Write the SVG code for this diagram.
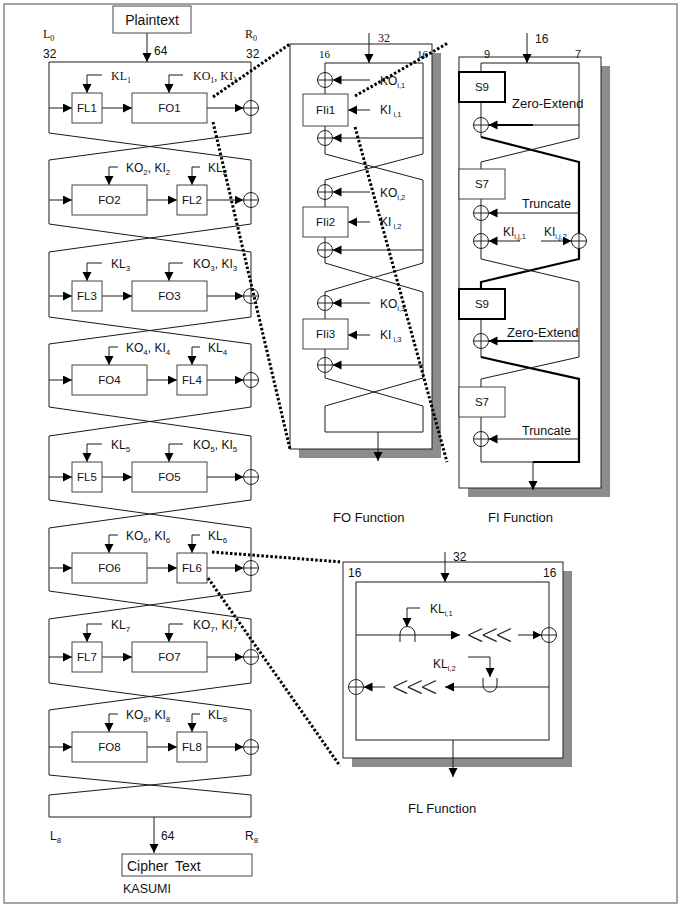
<svg xmlns="http://www.w3.org/2000/svg" width="680" height="911" viewBox="0 0 680 911">
<style>
.ln{fill:none;stroke:#1a1a1a;stroke-width:1}
.ar{fill:none;stroke:#1a1a1a;stroke-width:1;marker-end:url(#ah)}
.thk{fill:none;stroke:#000;stroke-width:2.2}
.thka{fill:none;stroke:#000;stroke-width:2.2;marker-end:url(#ah)}
.box{fill:#fff;stroke:#444;stroke-width:1}
.tbox{fill:#fff;stroke:#000;stroke-width:2}
.sh{fill:#8c8c8c;stroke:none}
.pan{fill:#fff;stroke:#222;stroke-width:1}
.dot{fill:none;stroke:#000;stroke-width:3;stroke-dasharray:2.5 2}
text{font-family:"Liberation Sans",Arial,sans-serif;fill:#111}
.t12{font-size:12px}
.t11{font-size:11px}
.t13{font-size:13px}
.bx{font-size:11.5px;text-anchor:middle}
.sf{font-family:"Liberation Serif","Times New Roman",serif}
.sub{font-size:8px}
.sub7{font-size:7.5px}
.chev{font-family:"DejaVu Sans",sans-serif;font-weight:200;font-size:22px;letter-spacing:-4px;fill:#222}
</style>
<defs>
<marker id="ah" markerUnits="userSpaceOnUse" markerWidth="10" markerHeight="10" refX="9" refY="4.5" orient="auto"><path d="M0,0 L9,4.5 L0,9 z" fill="#000"/></marker>
<g id="xor"><circle r="7.5" fill="#fff" stroke="#222" stroke-width="1"/><path d="M-7.5,0 H7.5 M0,-7.5 V7.5" stroke="#222" stroke-width="1" fill="none"/></g>
</defs>
<rect x="0" y="0" width="680" height="911" fill="#fff"/>
<rect id="frame" x="4" y="4" width="673" height="899" fill="none" stroke="#888" stroke-width="1.5"/>

<!-- FO / FI / FL panels (backgrounds) -->
<g id="fo-panel">
<rect class="sh" x="299" y="53" width="142" height="405"/>
<rect class="pan" x="290" y="44" width="142" height="405"/>
</g>
<g id="fi-panel">
<rect class="sh" x="468" y="66" width="142" height="431"/>
<rect class="pan" x="459" y="57" width="142" height="431"/>
</g>
<g id="fl-panel">
<rect class="sh" x="352" y="571" width="220" height="196"/>
<rect class="pan" x="343" y="562" width="220" height="196"/>
<rect class="ln" x="356" y="582" width="193" height="158"/>
</g>

<!-- KASUMI round skeleton -->
<g id="round-frame" class="ln">
<path d="M49,133 V62 H251 V133"/>
<path d="M49,133 L251,160 M251,133 L49,160 M49,160 V224 M251,160 V224"/>
<path d="M49,224 L251,252 M251,224 L49,252 M49,252 V317 M251,252 V317"/>
<path d="M49,317 L251,344 M251,317 L49,344 M49,344 V407 M251,344 V407"/>
<path d="M49,407 L251,436 M251,407 L49,436 M49,436 V500 M251,436 V500"/>
<path d="M49,500 L251,528 M251,500 L49,528 M49,528 V591 M251,528 V591"/>
<path d="M49,591 L251,619 M251,591 L49,619 M49,619 V683 M251,619 V683"/>
<path d="M49,683 L251,710 M251,683 L49,710 M49,710 V775 M251,710 V775"/>
<path d="M49,775 L251,795 M251,775 L49,795 M49,795 V817 H251 V795"/>
</g>

<!-- FO internal skeleton -->
<g id="fo-frame" class="ln">
<path d="M325,154 V63 H423 V154"/>
<path d="M325,154 L423,180 M423,154 L325,180 M325,180 V263 M423,180 V263"/>
<path d="M325,263 L423,292 M423,263 L325,292 M325,292 V378 M423,292 V378"/>
<path d="M325,378 L423,406 M423,378 L325,406 M325,406 V432 H423 V406"/>
</g>

<!-- FI internal skeleton -->
<g id="fi-frame">
<path class="ln" d="M481,72 V63 H579 V138"/>
<path class="ln" d="M481,102 V137"/>
<path class="thk" d="M481,137 L579,162 V259 L481,282 V289"/>
<path class="ln" d="M579,138 L481,162 V169"/>
<path class="ln" d="M481,199 V259 L579,282 V357"/>
<path class="ln" d="M481,319 V357"/>
<path class="thk" d="M481,357 L579,379 V462 H533"/>
<path class="ln" d="M579,357 L481,379 V387"/>
<path class="ln" d="M481,417 V462 H533"/>
</g>

<g id="connectors">
<path class="ar" d="M147,33 V62"/>
<path class="ar" d="M154,817 V853"/>
<!-- R1 -->
<path class="ar" d="M49,108 H72"/><path class="ar" d="M102,108 H132"/><path class="ar" d="M207,108 H243.5"/>
<path class="ar" d="M102,75 H87 V93"/><path class="ar" d="M183,75 H169 V93"/>
<!-- R2 -->
<path class="ar" d="M49,200 H72"/><path class="ar" d="M147,200 H177"/><path class="ar" d="M207,200 H243.5"/>
<path class="ar" d="M118,167 H109 V185"/><path class="ar" d="M200,167 H192 V185"/>
<!-- R3 -->
<path class="ar" d="M49,296 H72"/><path class="ar" d="M102,296 H132"/><path class="ar" d="M207,296 H243.5"/>
<path class="ar" d="M102,263 H87 V281"/><path class="ar" d="M183,263 H169 V281"/>
<!-- R4 -->
<path class="ar" d="M49,380 H72"/><path class="ar" d="M147,380 H177"/><path class="ar" d="M207,380 H243.5"/>
<path class="ar" d="M118,347 H109 V365"/><path class="ar" d="M200,347 H192 V365"/>
<!-- R5 -->
<path class="ar" d="M49,477 H72"/><path class="ar" d="M102,477 H132"/><path class="ar" d="M207,477 H243.5"/>
<path class="ar" d="M102,444 H87 V462"/><path class="ar" d="M183,444 H169 V462"/>
<!-- R6 -->
<path class="ar" d="M49,568 H72"/><path class="ar" d="M147,568 H177"/><path class="ar" d="M207,568 H243.5"/>
<path class="ar" d="M118,535 H109 V553"/><path class="ar" d="M200,535 H192 V553"/>
<!-- R7 -->
<path class="ar" d="M49,657 H72"/><path class="ar" d="M102,657 H132"/><path class="ar" d="M207,657 H243.5"/>
<path class="ar" d="M102,624 H87 V642"/><path class="ar" d="M183,624 H169 V642"/>
<!-- R8 -->
<path class="ar" d="M49,747 H72"/><path class="ar" d="M147,747 H177"/><path class="ar" d="M207,747 H243.5"/>
<path class="ar" d="M118,714 H109 V732"/><path class="ar" d="M200,714 H192 V732"/>
<!-- FO function -->
<path class="ar" d="M369,33 V63"/>
<path class="ar" d="M370,80 H332.5"/><path class="ar" d="M370,110 H348"/><path class="ar" d="M423,138 H332.5"/>
<path class="ar" d="M370,192 H332.5"/><path class="ar" d="M370,222 H348"/><path class="ar" d="M423,250 H332.5"/>
<path class="ar" d="M370,303 H332.5"/><path class="ar" d="M370,335 H348"/><path class="ar" d="M423,365 H332.5"/>
<path class="ar" d="M378,432 V461"/>
<!-- FI function -->
<path class="ar" d="M527,33 V63"/>
<path class="ln" d="M579,125 H533"/><path class="thka" d="M533,125 H488.5"/>
<path class="ar" d="M579,213 H488.5"/>
<path class="ar" d="M520,241 H488.5"/><path class="ar" d="M541,241 H571.5"/>
<path class="ln" d="M579,341 H533"/><path class="thka" d="M533,341 H488.5"/>
<path class="ar" d="M579,439 H488.5"/>
<path class="ar" d="M533,462 V490"/>
<!-- FL function -->
<path class="ar" d="M445,552 V582"/>
<path class="ar" d="M356,635 H460"/>
<path class="ar" d="M420,608 H407 V627"/>
<path class="ar" d="M518,635 H541.5"/>
<path class="ar" d="M549,687 H445"/>
<path class="ar" d="M468,657 H490 V677"/>
<path class="ar" d="M385,687 H363.5"/>
<path class="ar" d="M453,740 V777"/>
</g>

<!-- Plaintext / Ciphertext -->
<g id="plaintext"><rect class="box" x="113" y="6" width="78" height="27"/><text x="152" y="25" font-size="14" text-anchor="middle">Plaintext</text></g>
<g id="ciphertext"><rect class="box" x="122" y="854" width="130" height="22"/><text x="127" y="871" font-size="14" word-spacing="3">Cipher Text</text></g>
<g id="labels-main">
<text x="43" y="38" class="t12 sf">L<tspan class="sub" dy="3">0</tspan></text>
<text x="245" y="38" class="t12 sf">R<tspan class="sub" dy="3">0</tspan></text>
<text x="43" y="58" class="t12">32</text>
<text x="246" y="58" class="t12">32</text>
<text x="154" y="55" class="t12">64</text>
<text x="50" y="840" class="t12">L<tspan class="sub" dy="3">8</tspan></text>
<text x="161" y="840" class="t12">64</text>
<text x="245" y="840" class="t12">R<tspan class="sub" dy="3">8</tspan></text>
<text x="123" y="893" font-size="12.5">KASUMI</text>
</g>

<!-- Rounds -->
<g id="round1">
<g id="FL1"><rect class="box" x="72" y="93" width="30" height="30"/><text class="bx" x="87" y="112">FL1</text></g>
<g id="FO1"><rect class="box" x="132" y="93" width="75" height="30"/><text class="bx" x="169.5" y="112">FO1</text></g>
<use href="#xor" x="251" y="108"/>
<text x="111" y="80" class="t12 sf">KL<tspan class="sub" dy="3">1</tspan></text>
<text x="193" y="80" class="t12 sf">KO<tspan class="sub" dy="3">1</tspan><tspan dy="-3">, KI</tspan><tspan class="sub" dy="3">1</tspan></text>
</g>
<g id="round2">
<g id="FO2"><rect class="box" x="72" y="185" width="75" height="30"/><text class="bx" x="109.5" y="204">FO2</text></g>
<g id="FL2"><rect class="box" x="177" y="185" width="30" height="30"/><text class="bx" x="192" y="204">FL2</text></g>
<use href="#xor" x="251" y="200"/>
<text x="126" y="172" class="t12">KO<tspan class="sub" dy="3">2</tspan><tspan dy="-3">, KI</tspan><tspan class="sub" dy="3">2</tspan></text>
<text x="208" y="172" class="t12">KL<tspan class="sub" dy="3">2</tspan></text>
</g>
<g id="round3">
<g id="FL3"><rect class="box" x="72" y="281" width="30" height="30"/><text class="bx" x="87" y="300">FL3</text></g>
<g id="FO3"><rect class="box" x="132" y="281" width="75" height="30"/><text class="bx" x="169.5" y="300">FO3</text></g>
<use href="#xor" x="251" y="296"/>
<text x="111" y="268" class="t12">KL<tspan class="sub" dy="3">3</tspan></text>
<text x="193" y="268" class="t12">KO<tspan class="sub" dy="3">3</tspan><tspan dy="-3">, KI</tspan><tspan class="sub" dy="3">3</tspan></text>
</g>
<g id="round4">
<g id="FO4"><rect class="box" x="72" y="365" width="75" height="30"/><text class="bx" x="109.5" y="384">FO4</text></g>
<g id="FL4"><rect class="box" x="177" y="365" width="30" height="30"/><text class="bx" x="192" y="384">FL4</text></g>
<use href="#xor" x="251" y="380"/>
<text x="126" y="352" class="t12">KO<tspan class="sub" dy="3">4</tspan><tspan dy="-3">, KI</tspan><tspan class="sub" dy="3">4</tspan></text>
<text x="208" y="352" class="t12">KL<tspan class="sub" dy="3">4</tspan></text>
</g>
<g id="round5">
<g id="FL5"><rect class="box" x="72" y="462" width="30" height="30"/><text class="bx" x="87" y="481">FL5</text></g>
<g id="FO5"><rect class="box" x="132" y="462" width="75" height="30"/><text class="bx" x="169.5" y="481">FO5</text></g>
<use href="#xor" x="251" y="477"/>
<text x="111" y="449" class="t12">KL<tspan class="sub" dy="3">5</tspan></text>
<text x="193" y="449" class="t12">KO<tspan class="sub" dy="3">5</tspan><tspan dy="-3">, KI</tspan><tspan class="sub" dy="3">5</tspan></text>
</g>
<g id="round6">
<g id="FO6"><rect class="box" x="72" y="553" width="75" height="30"/><text class="bx" x="109.5" y="572">FO6</text></g>
<g id="FL6"><rect class="box" x="177" y="553" width="30" height="30"/><text class="bx" x="192" y="572">FL6</text></g>
<use href="#xor" x="251" y="568"/>
<text x="126" y="540" class="t12">KO<tspan class="sub" dy="3">6</tspan><tspan dy="-3">, KI</tspan><tspan class="sub" dy="3">6</tspan></text>
<text x="208" y="540" class="t12">KL<tspan class="sub" dy="3">6</tspan></text>
</g>
<g id="round7">
<g id="FL7"><rect class="box" x="72" y="642" width="30" height="30"/><text class="bx" x="87" y="661">FL7</text></g>
<g id="FO7"><rect class="box" x="132" y="642" width="75" height="30"/><text class="bx" x="169.5" y="661">FO7</text></g>
<use href="#xor" x="251" y="657"/>
<text x="111" y="629" class="t12">KL<tspan class="sub" dy="3">7</tspan></text>
<text x="193" y="629" class="t12">KO<tspan class="sub" dy="3">7</tspan><tspan dy="-3">, KI</tspan><tspan class="sub" dy="3">7</tspan></text>
</g>
<g id="round8">
<g id="FO8"><rect class="box" x="72" y="732" width="75" height="30"/><text class="bx" x="109.5" y="751">FO8</text></g>
<g id="FL8"><rect class="box" x="177" y="732" width="30" height="30"/><text class="bx" x="192" y="751">FL8</text></g>
<use href="#xor" x="251" y="747"/>
<text x="126" y="719" class="t12">KO<tspan class="sub" dy="3">8</tspan><tspan dy="-3">, KI</tspan><tspan class="sub" dy="3">8</tspan></text>
<text x="208" y="719" class="t12">KL<tspan class="sub" dy="3">8</tspan></text>
</g>

<!-- FO function nodes -->
<g id="fo-function">
<text x="378" y="42" class="t12 sf">32</text>
<text x="319" y="58" class="t11 sf">16</text>
<text x="417" y="58" class="t11 sf">16</text>
<use href="#xor" x="325" y="80"/>
<g id="FIi1"><rect class="box" x="303" y="94" width="45" height="32"/><text class="bx" x="325.5" y="114">FIi1</text></g>
<use href="#xor" x="325" y="138"/>
<text x="380" y="85" class="t12">KO<tspan class="sub7" dy="3">i,1</tspan></text>
<text x="380" y="114" class="t12">KI<tspan class="sub7" dy="3"> i,1</tspan></text>
<use href="#xor" x="325" y="192"/>
<g id="FIi2"><rect class="box" x="303" y="207" width="45" height="30"/><text class="bx" x="325.5" y="226">FIi2</text></g>
<use href="#xor" x="325" y="250"/>
<text x="380" y="197" class="t12">KO<tspan class="sub7" dy="3">i,2</tspan></text>
<text x="380" y="226" class="t12">KI<tspan class="sub7" dy="3"> i,2</tspan></text>
<use href="#xor" x="325" y="303"/>
<g id="FIi3"><rect class="box" x="303" y="319" width="45" height="30"/><text class="bx" x="325.5" y="338">FIi3</text></g>
<use href="#xor" x="325" y="365"/>
<text x="380" y="308" class="t12">KO<tspan class="sub7" dy="3">i,3</tspan></text>
<text x="380" y="339" class="t12">KI<tspan class="sub7" dy="3"> i,3</tspan></text>
<text x="333" y="522" class="t13">FO Function</text>
</g>

<!-- FI function nodes -->
<g id="fi-function">
<text x="535" y="43" class="t12">16</text>
<text x="484" y="58" class="t11">9</text>
<text x="575" y="58" class="t11">7</text>
<g id="S9a"><rect class="tbox" x="459" y="72" width="46" height="30"/><text class="bx" x="482" y="91">S9</text></g>
<use href="#xor" x="481" y="125"/>
<text x="512" y="108" class="t13">Zero-Extend</text>
<g id="S7a"><rect class="box" x="459" y="169" width="46" height="30"/><text class="bx" x="482" y="188">S7</text></g>
<use href="#xor" x="481" y="213"/>
<text x="522" y="208" font-size="12.5">Truncate</text>
<use href="#xor" x="481" y="241"/>
<use href="#xor" x="579" y="241"/>
<text x="503" y="236" class="t12">KI<tspan class="sub7" dy="3">i,j,1</tspan></text>
<text x="544" y="236" class="t12">KI<tspan class="sub7" dy="3">i,j,2</tspan></text>
<g id="S9b"><rect class="tbox" x="459" y="289" width="46" height="30"/><text class="bx" x="482" y="308">S9</text></g>
<use href="#xor" x="481" y="341"/>
<text x="507" y="337" class="t13">Zero-Extend</text>
<g id="S7b"><rect class="box" x="459" y="387" width="46" height="30"/><text class="bx" x="482" y="406">S7</text></g>
<use href="#xor" x="481" y="439"/>
<text x="522" y="435" font-size="12.5">Truncate</text>
<text x="488" y="522" class="t13">FI Function</text>
</g>

<!-- FL function nodes -->
<g id="fl-function">
<text x="453" y="561" class="t12">32</text>
<text x="348" y="577" class="t12">16</text>
<text x="543" y="577" class="t12">16</text>
<path class="ln" d="M400,642 V634 A7.5,7.5 0 0 1 415,634 V642"/>
<text x="430" y="613" class="t12">KL<tspan class="sub7" dy="3">i,1</tspan></text>
<text class="chev" transform="translate(466,635) scale(1,1.25)" x="0" y="7">&lt;&lt;&lt;</text>
<use href="#xor" x="549" y="635"/>
<path class="ln" d="M483,678 V685 A7,7 0 0 0 497,685 V678"/>
<text x="433" y="668" class="t12">KL<tspan class="sub7" dy="3">i,2</tspan></text>
<text class="chev" transform="translate(391,687) scale(1,1.25)" x="0" y="7">&lt;&lt;&lt;</text>
<use href="#xor" x="356" y="687"/>
<text x="408" y="813" class="t13">FL Function</text>
</g>

<!-- zoom call-out dotted lines -->
<g id="callouts" class="dot">
<path d="M213,97 L290,44"/>
<path d="M213,122 L290,449"/>
<path d="M355,96 L448,43"/>
<path d="M355,127 L447,462"/>
<path d="M212,552 L342,562"/>
<path d="M208,578 L340,766"/>
</g>
</svg>
